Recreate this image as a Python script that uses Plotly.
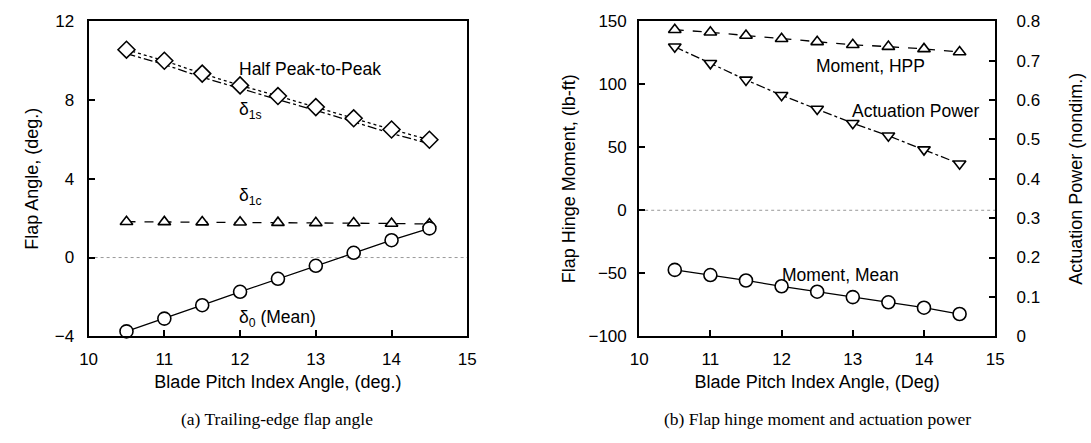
import plotly.graph_objects as go

# ---- data ----
pitch = [10.5, 11.0, 11.5, 12.0, 12.5, 13.0, 13.5, 14.0, 14.5]

# (a) Trailing-edge flap angle (deg.)
delta_hpp = [10.55, 9.99, 9.34, 8.74, 8.20, 7.64, 7.07, 6.50, 5.98]
delta_1s = [10.35, 9.80, 9.15, 8.57, 8.02, 7.47, 6.88, 6.30, 5.78]
delta_1c = [1.82, 1.81, 1.80, 1.79, 1.77, 1.76, 1.75, 1.73, 1.70]
delta_0 = [-3.75, -3.10, -2.42, -1.74, -1.08, -0.42, 0.24, 0.88, 1.48]

# (b) Flap hinge moment (lb-ft) and actuation power (nondim.)
moment_hpp = [143.2, 141.2, 138.6, 136.1, 133.6, 131.3, 129.8, 128.0, 125.5]
moment_mean = [-47.3, -51.4, -55.7, -60.3, -64.6, -68.9, -73.0, -77.3, -82.3]
act_power = [0.735, 0.693, 0.651, 0.612, 0.577, 0.541, 0.509, 0.474, 0.438]

FONT = "Liberation Sans, Arial, sans-serif"
SERIF = "Liberation Serif, Times New Roman, serif"

fig = go.Figure()


def add(x, y, xa, ya, sym, dash, size, width=1.3):
    fig.add_trace(go.Scatter(
        x=x, y=y, xaxis=xa, yaxis=ya, mode="lines+markers",
        line=dict(color="black", width=width, dash=dash),
        marker=dict(symbol=sym, size=size, color="white",
                    line=dict(color="black", width=1.6)),
        showlegend=False, cliponaxis=False))


# zero reference lines
for xa, ya in [("x", "y"), ("x2", "y2")]:
    fig.add_trace(go.Scatter(x=[10, 15], y=[0, 0], xaxis=xa, yaxis=ya, mode="lines",
                             line=dict(color="#999999", width=1, dash="dot"),
                             showlegend=False, hoverinfo="skip"))

# panel (a)
add(pitch, delta_1s, "x", "y", "triangle-down-open", "dashdot", 10)
add(pitch, delta_hpp, "x", "y", "diamond", "dot", 13)
add(pitch, delta_1c, "x", "y", "triangle-up", "dash", 11)
add(pitch, delta_0, "x", "y", "circle", "solid", 13)

# panel (b)
add(pitch, moment_hpp, "x2", "y2", "triangle-up", "dash", 11)
add(pitch, act_power, "x2", "y3", "triangle-down", "dashdot", 11)
add(pitch, moment_mean, "x2", "y2", "circle", "solid", 13)

ax_common = dict(showline=True, linecolor="black", linewidth=2,
                 ticks="inside", ticklen=6, tickwidth=1.5, tickcolor="black",
                 showgrid=False, zeroline=False,
                 tickfont=dict(family=FONT, size=17, color="black"),
                 title_font=dict(family=FONT, size=18, color="black"))

fig.update_layout(
    width=1091, height=443,
    margin=dict(l=0, r=0, t=0, b=0),
    paper_bgcolor="white", plot_bgcolor="white",
    xaxis=dict(domain=[0.0742, 0.4271], range=[10, 15], dtick=1, anchor="y",
               mirror=True, ticklabelstandoff=6,
               title=dict(text="Blade Pitch Index Angle, (deg.)", standoff=8),
               **ax_common),
    yaxis=dict(domain=[0.228, 0.9713], range=[-4, 12], dtick=4, anchor="x",
               mirror=True, ticklabelstandoff=9,
               title=dict(text="Flap Angle, (deg.)", standoff=12),
               **ax_common),
    xaxis2=dict(domain=[0.5873, 0.9191], range=[10, 15], dtick=1, anchor="y2",
                mirror=True, ticklabelstandoff=6,
                title=dict(text="Blade Pitch Index Angle, (Deg)", standoff=8),
                **ax_common),
    yaxis2=dict(domain=[0.228, 0.9713], range=[-100, 150], dtick=50, anchor="x2",
                ticklabelstandoff=7,
                title=dict(text="Flap Hinge Moment, (lb-ft)", standoff=8),
                **ax_common),
    yaxis3=dict(range=[0, 0.8], dtick=0.1, overlaying="y2", side="right", anchor="x2",
                ticklabelstandoff=16,
                title=dict(text="Actuation Power (nondim.)", standoff=30),
                tickformat=".1~f",
                **ax_common),
)

ann_font = dict(family=FONT, size=17.5, color="black")


def note(x, y, xref, yref, text, xanchor="left"):
    fig.add_annotation(x=x, y=y, xref=xref, yref=yref, text=text, showarrow=False,
                       xanchor=xanchor, yanchor="middle", font=ann_font)


note(11.96, 9.57, "x", "y", "Half Peak-to-Peak")
note(11.96, 7.45, "x", "y", "δ<sub>1s</sub>")
note(11.96, 3.1, "x", "y", "δ<sub>1c</sub>")
note(11.96, -3.1, "x", "y", "δ<sub>0</sub> (Mean)")
note(12.46, 114.8, "x2", "y2", "Moment, HPP")
note(12.96, 79, "x2", "y2", "Actuation Power")
note(11.98, -51, "x2", "y2", "Moment, Mean")

# captions
cap_font = dict(family=SERIF, size=17.5, color="black")
fig.add_annotation(x=273 / 1091, y=1 - 428 / 443, xref="paper", yref="paper",
                   text="(a) Trailing-edge flap angle", showarrow=False,
                   xanchor="center", yanchor="middle", font=cap_font)
fig.add_annotation(x=822 / 1091, y=1 - 428 / 443, xref="paper", yref="paper",
                   text="(b) Flap hinge moment and actuation power", showarrow=False,
                   xanchor="center", yanchor="middle", font=cap_font)

fig.write_html("out.html")
